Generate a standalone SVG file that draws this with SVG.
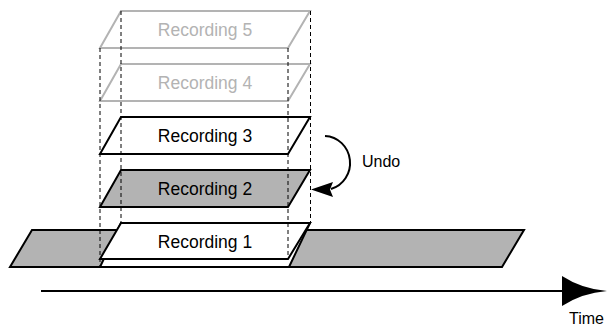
<svg xmlns="http://www.w3.org/2000/svg" width="607" height="326" viewBox="0 0 607 326">
<style>
.blk{fill:#ffffff;stroke:#000000;stroke-width:2;stroke-linejoin:miter}
.gry{fill:#b3b3b3;stroke:#000000;stroke-width:2}
.ghost{fill:#ffffff;stroke:#b3b3b3;stroke-width:2}
.lbl{font-family:"Liberation Sans",Arial,sans-serif;font-size:17.5px;text-anchor:middle;fill:#000000}
.glbl{font-family:"Liberation Sans",Arial,sans-serif;font-size:17.5px;text-anchor:middle;fill:#b3b3b3}
.small{font-family:"Liberation Sans",Arial,sans-serif;font-size:16px;fill:#000000}
.guide{stroke:#000000;stroke-width:1;stroke-dasharray:4,3;fill:none}
.conn{stroke:#000000;stroke-width:2;fill:none}
</style>
<g id="timeline">
<polygon class="gry" points="32,230 524,230 502,267 10,267"/>
<polygon class="blk" points="121,223 310,223 289,267 100,267"/>
</g>
<g id="recording1">
<polygon class="blk" points="121,223 310,223 288,259 100,259"/>
<text class="lbl" x="205" y="248">Recording 1</text>
</g>
<g id="recording2">
<polygon class="gry" points="121,170 310,170 288,207 100,207"/>
<text class="lbl" x="205" y="195">Recording 2</text>
</g>
<g id="recording3">
<polygon class="blk" points="121,117 310,117 288,154 100,154"/>
<text class="lbl" x="205" y="142">Recording 3</text>
</g>
<g id="recording4">
<polygon class="ghost" points="121,64 310,64 288,101 100,101"/>
<text class="glbl" x="205" y="89">Recording 4</text>
</g>
<g id="recording5">
<polygon class="ghost" points="121,11 310,11 288,48 100,48"/>
<text class="glbl" x="205" y="36">Recording 5</text>
</g>
<g id="guides">
<line class="guide" x1="100" y1="48" x2="100" y2="266"/>
<line class="guide" x1="121" y1="11" x2="121" y2="223"/>
<line class="guide" x1="288" y1="48" x2="288" y2="259"/>
<line class="guide" x1="310.5" y1="11" x2="310.5" y2="223"/>
</g>
<g id="connectors">
<path class="conn" d="M 325 136 A 26 27 0 0 1 331 189"/>
<polygon fill="#000000" points="311,189.5 333,182 330,189.5 333,197"/>
<line class="conn" x1="41" y1="291" x2="566" y2="291"/>
<path fill="#000000" d="M 562 276 Q 582 289 607 291 Q 582 293 562 306 Z"/>
</g>
<text class="small" x="362" y="167">Undo</text>
<text class="small" x="569" y="324">Time</text>
</svg>
